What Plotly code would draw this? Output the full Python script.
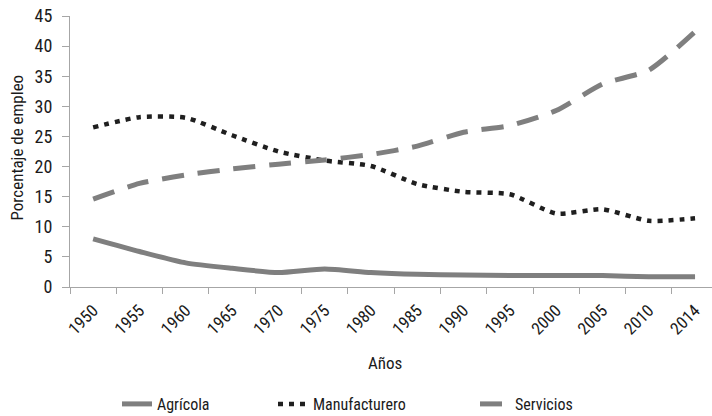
import plotly.graph_objects as go

years = ["1950", "1955", "1960", "1965", "1970", "1975", "1980",
         "1985", "1990", "1995", "2000", "2005", "2010", "2014"]

agricola = [8.0, 5.9, 4.0, 3.1, 2.4, 3.0, 2.4, 2.1, 2.0, 1.9, 1.9, 1.9, 1.7, 1.7]
manufacturero = [26.5, 28.2, 28.1, 25.2, 22.5, 21.0, 20.1, 17.1, 15.8, 15.4, 12.2, 12.9, 11.0, 11.4]
servicios = [14.6, 17.2, 18.6, 19.6, 20.4, 21.1, 22.0, 23.4, 25.7, 26.8, 29.3, 33.7, 36.0, 42.4]

FONT = "Roboto Condensed, Liberation Sans Narrow, sans-serif"
GRAY = "#7f7f7f"
AXIS = "#a6a6a6"

# plot area: x 70 -> 712 px, y 16 -> 287 px
def px_x(px):
    return (px - 70) / 642

def px_y(py):
    return (287 - py) / 271

fig = go.Figure()
fig.add_trace(go.Scatter(
    x=years, y=agricola, name="Agrícola", mode="lines", legend="legend",
    line=dict(color=GRAY, width=5, shape="spline", smoothing=0.6),
))
fig.add_trace(go.Scatter(
    x=years, y=manufacturero, name="Manufacturero", mode="lines", legend="legend2",
    line=dict(color="#1f1f1f", width=4.5, dash="5px,6px", shape="spline", smoothing=0.6),
))
fig.add_trace(go.Scatter(
    x=years, y=servicios, name="Servicios", mode="lines", legend="legend3",
    line=dict(color=GRAY, width=5, dash="22px,14px", shape="spline", smoothing=0.6),
))

# legends placed against the whole page so they do not push the margins
leg = dict(orientation="h", xref="container", yref="container",
           y=1 - 404 / 416, yanchor="middle", xanchor="left",
           font=dict(size=16), bgcolor="rgba(0,0,0,0)")

fig.update_layout(
    width=712, height=416,
    margin=dict(l=70, r=0, t=16, b=129, autoexpand=False),
    paper_bgcolor="white", plot_bgcolor="white",
    font=dict(family=FONT, size=17, color="#1a1a1a"),
    showlegend=True,
    legend=dict(leg, x=(157 - 40) / 712),
    legend2=dict(leg, x=(313 - 40) / 712),
    legend3=dict(leg, x=(515 - 40) / 712),
    annotations=[
        dict(text="Años", xref="paper", yref="paper", x=px_x(385), y=px_y(363),
             xanchor="center", yanchor="middle", showarrow=False,
             font=dict(size=17)),
        dict(text="Porcentaje de empleo", xref="paper", yref="paper",
             x=px_x(16.5), y=px_y(148), xanchor="center", yanchor="middle",
             textangle=-90, showarrow=False, font=dict(size=17)),
    ],
)
fig.update_xaxes(
    type="category", range=[-0.5, 13.366], automargin=False,
    tickson="boundaries", ticks="outside", ticklen=6, tickcolor=AXIS,
    showline=True, linecolor=AXIS, linewidth=1, showgrid=False,
    tickangle=-45, tickfont=dict(size=17), ticklabelstandoff=6,
)
fig.update_yaxes(
    range=[0, 45], dtick=5, ticks="outside", ticklen=7, tickcolor=AXIS, automargin=False,
    showline=True, linecolor=AXIS, linewidth=1, showgrid=False, zeroline=False,
    tickfont=dict(size=18), ticklabelstandoff=6,
)

# drop the default 8px body margin so the figure fills the window
fig.write_html("out.html", config={"displayModeBar": False},
               post_script="document.body.style.margin='0';")
